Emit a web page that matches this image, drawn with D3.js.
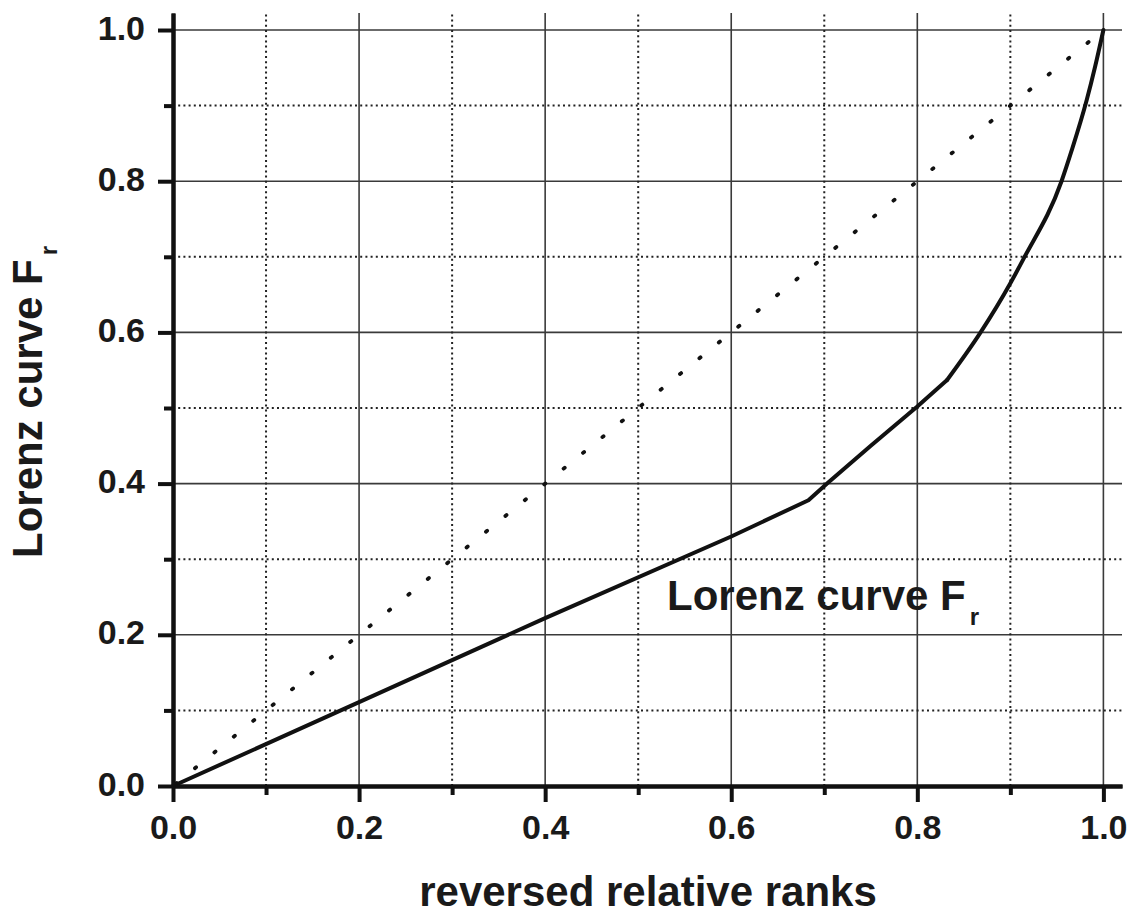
<!DOCTYPE html>
<html>
<head>
<meta charset="utf-8">
<script src="https://cdn.jsdelivr.net/npm/d3@7/dist/d3.min.js"></script>
<style>
  html, body { margin: 0; padding: 0; background: #fff; }
  svg { display: block; }
  text { font-family: "Liberation Sans", Arial, sans-serif; font-weight: bold; fill: #1a1a1a; }
</style>
</head>
<body>
<svg id="chart" width="1132" height="918"></svg>
<script>
// ---- data ----
const ranks   = [0, 0.2, 0.4, 0.6, 0.683, 0.703, 0.75, 0.8, 0.832, 0.868, 0.9, 0.914, 0.955, 0.966, 0.982, 0.991, 1.0];
const lorenz  = [0, 0.111, 0.222, 0.33, 0.378, 0.40, 0.45, 0.502, 0.537, 0.60, 0.665, 0.697, 0.80, 0.841, 0.907, 0.951, 1.0];
const equality = [[0, 0], [1, 1]];
const majorTicks = [0, 0.2, 0.4, 0.6, 0.8, 1.0];
const minorTicks = [0.1, 0.3, 0.5, 0.7, 0.9];
const xTitle = "reversed relative ranks";
const yTitle = "Lorenz curve F";
const curveLabel = "Lorenz curve F";
const subLabel = "r";
const smoothFrom = 0.832; // curve is smooth beyond this rank, piecewise straight before

// ---- layout ----
const svg = d3.select("#chart");
const x = d3.scaleLinear().domain([0, 1.02]).range([173, 1122]);
const y = d3.scaleLinear().domain([0, 1.0225]).range([786, 13]);
const [x0, x1] = x.range();
const [y0, y1] = y.range();

svg.append("rect").attr("width", 1132).attr("height", 918).attr("fill", "#fff");

// grid
const grid = svg.append("g");
grid.selectAll(".vmaj").data(majorTicks.filter(d => d > 0)).join("line")
  .attr("x1", d => x(d)).attr("x2", d => x(d)).attr("y1", y0).attr("y2", y1)
  .attr("stroke", "#3a3a3a").attr("stroke-width", 1.6);
grid.selectAll(".hmaj").data(majorTicks.filter(d => d > 0)).join("line")
  .attr("y1", d => y(d)).attr("y2", d => y(d)).attr("x1", x0).attr("x2", x1)
  .attr("stroke", "#3a3a3a").attr("stroke-width", 1.6);
grid.selectAll(".vmin").data(minorTicks).join("line")
  .attr("x1", d => x(d)).attr("x2", d => x(d)).attr("y1", y0).attr("y2", y1)
  .attr("stroke", "#222").attr("stroke-width", 2).attr("stroke-dasharray", "2,3.2");
grid.selectAll(".hmin").data(minorTicks).join("line")
  .attr("y1", d => y(d)).attr("y2", d => y(d)).attr("x1", x0).attr("x2", x1)
  .attr("stroke", "#222").attr("stroke-width", 2).attr("stroke-dasharray", "2,3.2");

// equality diagonal (dotted)
svg.append("path")
  .datum(equality)
  .attr("d", d3.line().x(d => x(d[0])).y(d => y(d[1])))
  .attr("fill", "none").attr("stroke", "#111").attr("stroke-width", 3.8)
  .attr("stroke-linecap", "round").attr("stroke-dasharray", "1.5,23.5").attr("stroke-dashoffset", 21.75);

// Lorenz curve
const pts = ranks.map((r, i) => [r, lorenz[i]]);
const partA = pts.filter(d => d[0] <= smoothFrom);
const partB = pts.filter(d => d[0] >= smoothFrom);
const lineA = d3.line().x(d => x(d[0])).y(d => y(d[1]));
const lineB = d3.line().curve(d3.curveMonotoneX).x(d => x(d[0])).y(d => y(d[1]));
[[partA, lineA], [partB, lineB]].forEach(([data, gen]) => {
  svg.append("path").datum(data).attr("d", gen)
    .attr("fill", "none").attr("stroke", "#111").attr("stroke-width", 4)
    .attr("stroke-linejoin", "round").attr("stroke-linecap", "round");
});

// axes
function styleAxis(g) {
  g.select(".domain").attr("stroke", "#111").attr("stroke-width", 4);
  g.selectAll(".tick line").attr("stroke", "#111").attr("stroke-width", 4);
  g.selectAll(".tick text").attr("font-size", 34).attr("fill", "#1a1a1a")
    .attr("font-family", "'Liberation Sans', Arial, sans-serif").attr("font-weight", "bold");
}
const xMinor = svg.append("g").attr("transform", `translate(0,${y(0)})`)
  .call(d3.axisBottom(x).tickValues(minorTicks).tickSize(9).tickSizeOuter(0).tickFormat(""));
styleAxis(xMinor);
const yMinor = svg.append("g").attr("transform", `translate(${x(0)},0)`)
  .call(d3.axisLeft(y).tickValues(minorTicks).tickSize(9).tickSizeOuter(0).tickFormat(""));
styleAxis(yMinor);

const xAxis = svg.append("g").attr("transform", `translate(0,${y(0)})`)
  .call(d3.axisBottom(x).tickValues(majorTicks).tickSize(16).tickSizeOuter(0).tickPadding(13).tickFormat(d3.format(".1f")));
styleAxis(xAxis);
const yAxis = svg.append("g").attr("transform", `translate(${x(0)},0)`)
  .call(d3.axisLeft(y).tickValues(majorTicks).tickSize(15).tickSizeOuter(0).tickPadding(13).tickFormat(d3.format(".1f")));
styleAxis(yAxis);
yAxis.selectAll(".tick text").attr("dy", "0.27em");

// titles
svg.append("text").attr("x", 648).attr("y", 906).attr("text-anchor", "middle")
  .attr("font-size", 42).text(xTitle);

const yt = svg.append("text").attr("transform", "translate(42,558) rotate(-90)")
  .attr("font-size", 42);
yt.append("tspan").text(yTitle);
yt.append("tspan").attr("font-size", 24).attr("dx", 4).attr("dy", 15).text(subLabel);

// in-plot label
const lab = svg.append("text").attr("x", 667).attr("y", 610).attr("font-size", 42);
lab.append("tspan").text(curveLabel);
lab.append("tspan").attr("font-size", 24).attr("dx", 4).attr("dy", 15).text(subLabel);
</script>
</body>
</html>
